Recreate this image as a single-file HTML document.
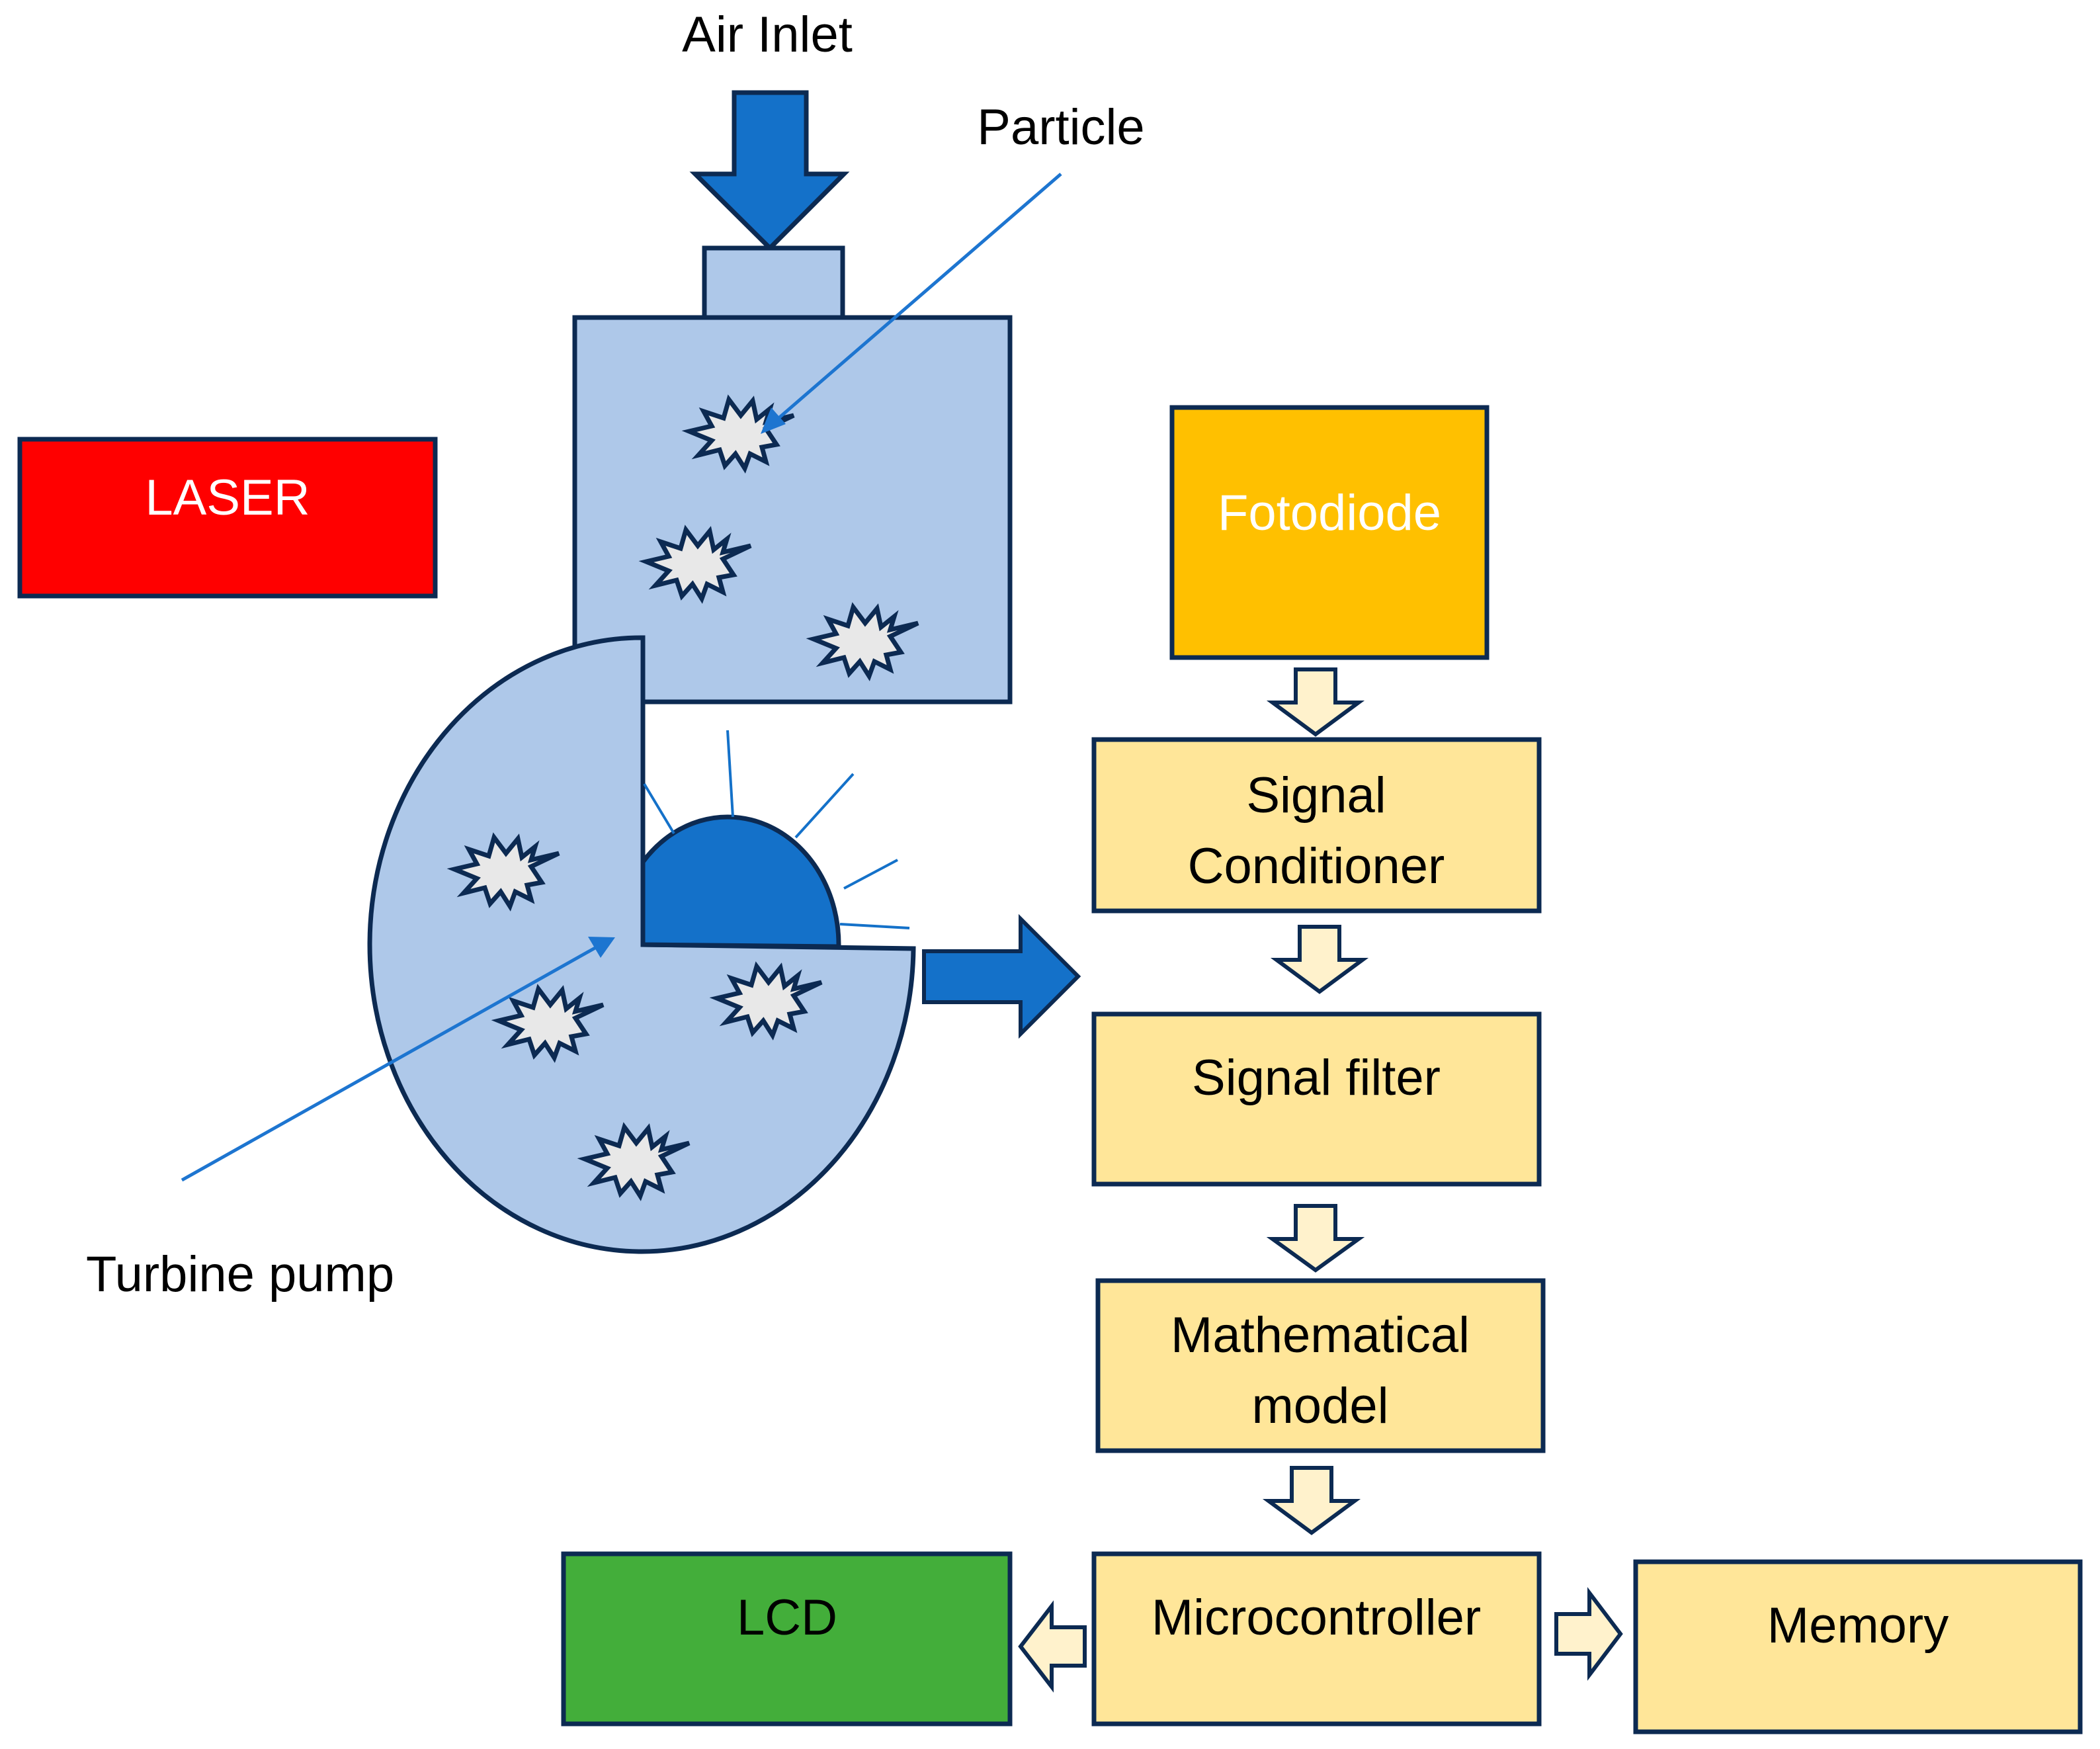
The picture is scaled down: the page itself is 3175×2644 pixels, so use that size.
<!DOCTYPE html>
<html><head><meta charset="utf-8"><style>
html,body{margin:0;padding:0;background:#fff}
svg{display:block}
text{font-family:"Liberation Sans",sans-serif;font-size:76px}
</style></head><body>
<svg width="3175" height="2644" viewBox="0 0 3175 2644" xmlns="http://www.w3.org/2000/svg">
<defs>
<polygon id="st" points="82,-30 40,-10 56,14 34,18 40,40 16,28 8,50 -6,28 -22,46 -30,22 -62,30 -42,8 -76,-6 -42,-14 -54,-36 -24,-26 -16,-54 2,-30 20,-52 26,-24 46,-40 40,-20" fill="#e8e8e8" stroke="#0c2a52" stroke-width="7" stroke-linejoin="miter"/>
</defs>
<!-- Air inlet -->
<text x="1160" y="78" text-anchor="middle">Air Inlet</text>
<polygon points="1110,140 1219,140 1219,263 1276,263 1164,375 1051,263 1110,263" fill="#1471c9" stroke="#0c2a52" stroke-width="7"/>
<rect x="1065" y="375" width="209" height="105" fill="#aec8e9" stroke="#0c2a52" stroke-width="7"/>
<rect x="869" y="480" width="658" height="581" fill="#aec8e9" stroke="#0c2a52" stroke-width="7"/>
<!-- pump -->
<path d="M972,964 A411,464 0 1 0 1381,1434 L972,1428 Z" fill="#aec8e9" stroke="#0c2a52" stroke-width="7"/>
<path d="M972,1428 L972,1303 A168,193 0 0 1 1268,1431 Z" fill="#1471c9" stroke="#0c2a52" stroke-width="7"/>
<g stroke="#1471c9" stroke-width="4">
<line x1="974" y1="1185" x2="1019" y2="1260"/>
<line x1="1100" y1="1104" x2="1108" y2="1235"/>
<line x1="1290" y1="1170" x2="1203" y2="1266"/>
<line x1="1357" y1="1300" x2="1276" y2="1343"/>
<line x1="1375" y1="1403" x2="1270" y2="1397"/>
</g>
<polygon points="1397,1438 1543,1438 1543,1389 1630,1476 1543,1563 1543,1515 1397,1515" fill="#1471c9" stroke="#0c2a52" stroke-width="6"/>
<!-- stars -->
<use href="#st" x="1118" y="658"/>
<use href="#st" x="1053" y="855"/>
<use href="#st" x="1306" y="972"/>
<use href="#st" x="763" y="1320"/>
<use href="#st" x="830" y="1549"/>
<use href="#st" x="1160" y="1515"/>
<use href="#st" x="960" y="1758"/>
<!-- particle -->
<text x="1604" y="218" text-anchor="middle">Particle</text>
<line x1="1604" y1="263" x2="1175" y2="634" stroke="#1d75d0" stroke-width="5"/>
<polygon points="1150,656 1166,616 1188,641" fill="#1d75d0"/>
<!-- turbine -->
<text x="130" y="1952">Turbine pump</text>
<line x1="275" y1="1784" x2="905" y2="1430" stroke="#1d75d0" stroke-width="5"/>
<polygon points="930,1417 889,1416 908,1448" fill="#1d75d0"/>
<!-- laser -->
<rect x="30" y="664" width="628" height="237" fill="#ff0000" stroke="#0c2a52" stroke-width="7"/>
<text x="344" y="778" text-anchor="middle" fill="#fff">LASER</text>
<!-- fotodiode -->
<rect x="1772" y="616" width="476" height="378" fill="#ffc000" stroke="#0c2a52" stroke-width="7"/>
<text x="2010" y="801" text-anchor="middle" fill="#fff">Fotodiode</text>
<!-- boxes -->
<g fill="#ffe699" stroke="#0c2a52" stroke-width="7">
<rect x="1654" y="1118" width="673" height="259"/>
<rect x="1654" y="1533" width="673" height="257"/>
<rect x="1660" y="1936" width="673" height="257"/>
<rect x="1654" y="2349" width="673" height="257"/>
<rect x="2473" y="2361" width="672" height="257"/>
</g>
<rect x="852" y="2349" width="675" height="257" fill="#43ae3a" stroke="#0c2a52" stroke-width="7"/>
<g text-anchor="middle">
<text x="1990" y="1228">Signal</text>
<text x="1990" y="1335">Conditioner</text>
<text x="1990" y="1655">Signal filter</text>
<text x="1996" y="2044">Mathematical</text>
<text x="1996" y="2151">model</text>
<text x="1990" y="2471">Microcontroller</text>
<text x="1190" y="2471">LCD</text>
<text x="2809" y="2483">Memory</text>
</g>
<!-- hollow arrows -->
<g fill="#fff2cc" stroke="#0c2a52" stroke-width="6" stroke-linejoin="miter">
<polygon points="1959,1012 2019,1012 2019,1062 2054,1062 1989,1110 1924,1062 1959,1062"/>
<polygon points="1965,1401 2025,1401 2025,1451 2060,1451 1995,1499 1930,1451 1965,1451"/>
<polygon points="1959,1823 2019,1823 2019,1873 2054,1873 1989,1920 1924,1873 1959,1873"/>
<polygon points="1953,2219 2013,2219 2013,2269 2048,2269 1983,2317 1918,2269 1953,2269"/>
<polygon points="1640,2460 1590,2460 1590,2428 1543,2489 1590,2550 1590,2518 1640,2518"/>
<polygon points="2353,2440 2403,2440 2403,2408 2450,2470 2403,2532 2403,2500 2353,2500"/>
</g>
</svg>
</body></html>
